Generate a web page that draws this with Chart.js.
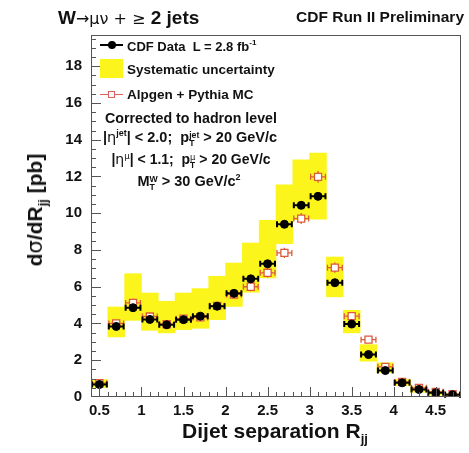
<!DOCTYPE html>
<html>
<head>
<meta charset="utf-8">
<script src="https://cdn.jsdelivr.net/npm/chart.js@4"></script>
<style>
html, body { margin: 0; padding: 0; background: #fff; }
#wrap { position: relative; width: 469px; height: 453px; font-family: 'Liberation Sans', Arial, sans-serif; font-weight: bold; color: #111; }
canvas { position: absolute; left: 0; top: 0; }
.t { position: absolute; white-space: nowrap; line-height: 1; }
.mid { transform: translateY(-50%); }
.ctr { transform: translate(-50%, -50%); }
.sym { font-family: 'DejaVu Sans', sans-serif; font-weight: normal; }
sub, sup { font-size: 0.62em; line-height: 0; }
.ss { display: inline-block; vertical-align: -0.5em; font-size: 0.6em; line-height: 0.95; text-align: left; }
.ss span { display: block; }
.box { position: absolute; }
</style>
</head>
<body>
<div id="wrap">
  <canvas id="myChart" width="469" height="453"></canvas>

  <div class="t mid" style="left:58px; top:17px; font-size:19px">W<span class="sym" style="font-size:16px">&rarr;&mu;&nu; + &ge;</span> 2 jets</div>
  <div class="t mid" style="right:5px; top:17px; font-size:15.5px">CDF Run II Preliminary</div>

  <div class="t" style="left:35px; top:210px; font-size:21px; transform:translate(-50%,-50%) rotate(-90deg)">d<span class="sym">&sigma;</span>/dR<sub>jj</sub> [pb]</div>
  <div class="t ctr" style="left:275px; top:430px; font-size:21px">Dijet separation R<sub>jj</sub></div>

  <!-- legend -->
  <div class="box" style="left:100px; top:44px; width:23px; height:2px; background:#000"></div>
  <div class="box" style="left:108px; top:41px; width:8px; height:8px; border-radius:50%; background:#000"></div>
  <div class="t mid" style="left:127px; top:46px; font-size:13px">CDF Data&nbsp; L = 2.8 fb<sup>-1</sup></div>

  <div class="box" style="left:100px; top:59px; width:23px; height:19px; background:#fbf51c"></div>
  <div class="t mid" style="left:127px; top:70px; font-size:13.5px">Systematic uncertainty</div>

  <div class="box" style="left:100px; top:94px; width:23px; height:1px; background:#e0605a"></div>
  <div class="box" style="left:108px; top:91px; width:5px; height:5px; border:1.2px solid #e0605a; background:#fff"></div>
  <div class="t mid" style="left:127px; top:95px; font-size:13.5px">Alpgen + Pythia MC</div>

  <div class="t ctr" style="left:191px; top:118px; font-size:14.2px">Corrected to hadron level</div>
  <div class="t ctr" style="left:190px; top:139px; font-size:14.5px">|<span class="sym">&eta;</span><sup>jet</sup>| &lt; 2.0;&nbsp; p<span class="ss"><span>jet</span><span>T</span></span> &gt; 20 GeV/c</div>
  <div class="t ctr" style="left:191px; top:161px; font-size:14px">|<span class="sym">&eta;</span><sup><span class="sym">&mu;</span></sup>| &lt; 1.1;&nbsp; p<span class="ss"><span class="sym">&mu;</span><span>T</span></span> &gt; 20 GeV/c</div>
  <div class="t ctr" style="left:189px; top:183px; font-size:14.5px">M<span class="ss"><span>W</span><span>T</span></span> &gt; 30 GeV/c<sup>2</sup></div>
</div>

<script>
'use strict'

// bin centres of R_jj (bin width 0.2)
let rjj = [0.5, 0.7, 0.9, 1.1, 1.3, 1.5, 1.7, 1.9, 2.1, 2.3, 2.5, 2.7, 2.9, 3.1, 3.3, 3.5, 3.7, 3.9, 4.1, 4.3, 4.5, 4.7]
let cdfData = [0.68, 3.84, 4.86, 4.22, 3.93, 4.21, 4.40, 4.94, 5.64, 6.43, 7.25, 9.40, 10.43, 10.92, 6.22, 3.97, 2.31, 1.44, 0.77, 0.41, 0.23, 0.12]
let dataErr = [0.05, 0.08, 0.09, 0.08, 0.08, 0.08, 0.08, 0.09, 0.09, 0.1, 0.1, 0.12, 0.12, 0.13, 0.1, 0.08, 0.06, 0.05, 0.04, 0.03, 0.02, 0.02]
let mcValues = [0.75, 4.00, 5.12, 4.38, 3.96, 4.26, 4.33, 4.96, 5.58, 6.00, 6.76, 7.84, 9.71, 11.98, 7.04, 4.40, 3.12, 1.64, 0.82, 0.50, 0.28, 0.15]
let mcErr = [0.1, 0.2, 0.22, 0.2, 0.2, 0.2, 0.2, 0.22, 0.24, 0.25, 0.26, 0.28, 0.3, 0.32, 0.28, 0.22, 0.18, 0.14, 0.1, 0.08, 0.05, 0.04]
let sysLow = [0.52, 3.27, 4.17, 3.63, 3.49, 3.67, 3.74, 4.21, 4.93, 5.70, 6.48, 8.34, 9.65, 9.68, 5.45, 3.49, 1.95, 1.32, 0.63, 0.26, 0.10, 0.04]
let sysHigh = [0.95, 4.90, 6.71, 5.66, 5.21, 5.66, 5.90, 6.57, 7.29, 8.38, 9.61, 11.55, 12.91, 13.27, 7.62, 4.72, 2.85, 1.86, 0.95, 0.55, 0.32, 0.19]

let xTickValues = [0.5, 1, 1.5, 2, 2.5, 3, 3.5, 4, 4.5]
let yTickValues = [0, 2, 4, 6, 8, 10, 12, 14, 16, 18]

let dataColor = '#000'
let mcColor = '#de5a3c'
let bandColor = '#fbf51c'
let tickFont = { family: 'Liberation Sans', size: 15, weight: 'bold' }

// frame round the plot plus inward ROOT style ticks
let frameAndTicks = {
    id: 'frameAndTicks',
    afterDraw(chart) {
        let ctx = chart.ctx
        let a = chart.chartArea
        let x = chart.scales.x
        let y = chart.scales.y
        ctx.save()
        ctx.strokeStyle = '#555'
        ctx.lineWidth = 1
        ctx.strokeRect(a.left + 0.5, a.top + 0.5, a.right - a.left - 1, a.bottom - a.top - 1)
        for (let k = 5; k <= 47; k++) {
            let px = Math.round(x.getPixelForValue(k / 10)) + 0.5
            let len = k % 5 === 0 ? 10 : 5
            ctx.beginPath()
            ctx.moveTo(px, a.bottom)
            ctx.lineTo(px, a.bottom - len)
            ctx.stroke()
        }
        for (let k = 1; k <= 39; k++) {
            let py = Math.round(y.getPixelForValue(k / 2)) + 0.5
            let len = k % 4 === 0 ? 10 : 5
            ctx.beginPath()
            ctx.moveTo(a.left, py)
            ctx.lineTo(a.left + len, py)
            ctx.stroke()
        }
        ctx.restore()
    }
}

// bin-width and stat error bars, drawn right after the yellow band
let errorBars = {
    id: 'errorBars',
    afterDatasetDraw(chart, args) {
        if (args.index !== 2) return
        let ctx = chart.ctx
        let x = chart.scales.x
        let y = chart.scales.y
        let half = (rjj[1] - rjj[0]) / 2

        function drawSet(vals, errs, color, width) {
            ctx.strokeStyle = color
            ctx.lineWidth = width
            for (let i = 0; i < rjj.length; i++) {
                let xl = x.getPixelForValue(rjj[i] - half) + 1
                let xr = x.getPixelForValue(rjj[i] + half) - 1
                let xc = x.getPixelForValue(rjj[i])
                let py = y.getPixelForValue(vals[i])
                ctx.beginPath()
                ctx.moveTo(xl, py); ctx.lineTo(xr, py)
                ctx.moveTo(xl, py - 3); ctx.lineTo(xl, py + 3)
                ctx.moveTo(xr, py - 3); ctx.lineTo(xr, py + 3)
                ctx.moveTo(xc, y.getPixelForValue(vals[i] - errs[i]))
                ctx.lineTo(xc, y.getPixelForValue(vals[i] + errs[i]))
                ctx.stroke()
            }
        }

        ctx.save()
        drawSet(mcValues, mcErr, mcColor, 1.3)
        drawSet(cdfData, dataErr, dataColor, 2)
        ctx.restore()
    }
}

let ctx = document.getElementById('myChart').getContext('2d')
let myChart = new Chart(ctx, {
    type: 'bar',
    data: {
        datasets: [{
            type: 'scatter',
            label: 'CDF Data',
            data: rjj.map((v, i) => ({ x: v, y: cdfData[i] })),
            pointStyle: 'circle',
            pointRadius: 4,
            backgroundColor: dataColor,
            borderColor: dataColor,
            borderWidth: 1
        }, {
            type: 'scatter',
            label: 'Alpgen + Pythia MC',
            data: rjj.map((v, i) => ({ x: v, y: mcValues[i] })),
            pointStyle: 'rect',
            pointRadius: 5,
            backgroundColor: '#fff',
            borderColor: mcColor,
            borderWidth: 1.3
        }, {
            type: 'bar',
            label: 'Systematic uncertainty',
            data: rjj.map((v, i) => ({ x: v, y: [sysLow[i], sysHigh[i]] })),
            backgroundColor: bandColor,
            borderWidth: 0,
            barPercentage: 1,
            categoryPercentage: 1
        }]
    },
    options: {
        responsive: false,
        devicePixelRatio: 1,
        animation: false,
        layout: { padding: { top: 35, right: 8, left: 0, bottom: 0 } },
        plugins: {
            legend: { display: false },
            tooltip: { enabled: false }
        },
        scales: {
            x: {
                type: 'linear',
                min: 0.4,
                max: 4.8,
                offset: false,
                grid: { display: false, drawTicks: false },
                border: { display: false },
                ticks: { font: tickFont, color: '#111', padding: 5, maxRotation: 0, callback: v => String(v) },
                afterBuildTicks: scale => { scale.ticks = xTickValues.map(v => ({ value: v })) },
                afterFit: scale => { scale.height = 56 }
            },
            y: {
                type: 'linear',
                min: 0,
                max: 19.7,
                grid: { display: false, drawTicks: false },
                border: { display: false },
                ticks: { font: tickFont, color: '#111', padding: 9, callback: v => String(v) },
                afterBuildTicks: scale => { scale.ticks = yTickValues.map(v => ({ value: v })) },
                afterFit: scale => { scale.width = 91 }
            }
        }
    },
    plugins: [frameAndTicks, errorBars]
})
</script>
</body>
</html>
